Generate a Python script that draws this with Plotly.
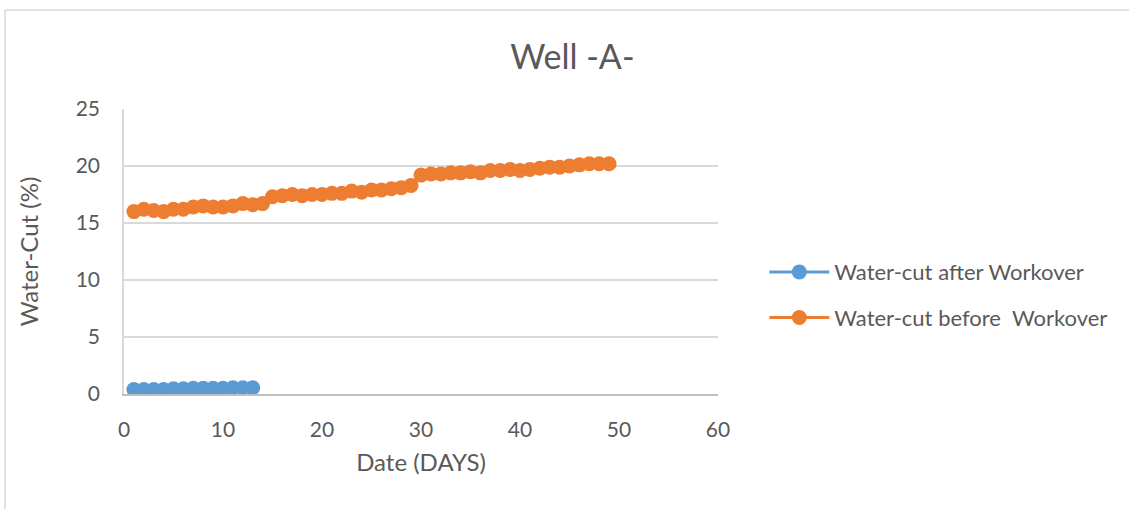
import plotly.graph_objects as go

days_after = list(range(1, 14))
wc_after = [0.4, 0.4, 0.4, 0.4, 0.45, 0.45, 0.5, 0.5, 0.5, 0.5, 0.55, 0.55, 0.55]

days_before = list(range(1, 50))
wc_before = [16.0, 16.2, 16.1, 16.0, 16.2, 16.2, 16.4, 16.5, 16.4, 16.4,
             16.5, 16.7, 16.6, 16.7, 17.3, 17.4, 17.5, 17.4, 17.5, 17.5,
             17.6, 17.6, 17.8, 17.7, 17.9, 17.9, 18.0, 18.1, 18.3, 19.2,
             19.3, 19.3, 19.4, 19.4, 19.5, 19.4, 19.6, 19.6, 19.7, 19.6,
             19.7, 19.8, 19.9, 19.9, 20.0, 20.1, 20.2, 20.2, 20.2]

x_ticks = [0, 10, 20, 30, 40, 50, 60]
y_ticks = [0, 5, 10, 15, 20, 25]

FONT = "Lato"
TXT = "#595959"

fig = go.Figure()
fig.add_trace(go.Scatter(x=days_after, y=wc_after, mode="lines+markers",
                         name="Water-cut after Workover", legendgroup="a",
                         line=dict(color="#5B9BD5", width=3),
                         marker=dict(color="#5B9BD5", size=15)))
fig.add_trace(go.Scatter(x=days_before, y=wc_before, mode="lines+markers",
                         name="Water-cut before  Workover", legendgroup="b",
                         line=dict(color="#ED7D31", width=3),
                         marker=dict(color="#ED7D31", size=15)))

fig.update_layout(
    width=1129, height=509,
    margin=dict(l=124, r=411, t=109, b=115),
    paper_bgcolor="white", plot_bgcolor="white",
    font=dict(family=FONT, color=TXT, size=21),
    title=dict(text="Well -A-", x=0.507, xref="container", xanchor="center",
               y=0.888, yref="container", yanchor="middle",
               font=dict(family=FONT, size=34, color=TXT)),
    xaxis=dict(range=[0, 60], tickvals=x_ticks, showgrid=False,
               showline=True, linecolor="#bfbfbf", linewidth=2,
               zeroline=False, ticks="", ticklabelstandoff=16,
               title=dict(text="Date (DAYS)", font=dict(size=24, color=TXT), standoff=14),
               tickfont=dict(size=21, color=TXT)),
    yaxis=dict(range=[0, 25], tickvals=y_ticks, showgrid=True,
               gridcolor="#d9d9d9", gridwidth=1.5,
               showline=True, linecolor="#d9d9d9", linewidth=1.5,
               zeroline=False, ticks="", ticklabelstandoff=18,
               title=dict(text="Water-Cut (%)", font=dict(size=24, color=TXT), standoff=30),
               tickfont=dict(size=21, color=TXT)),
    legend=dict(x=1.078, xanchor="left", y=0.347, yanchor="middle",
                traceorder="grouped", tracegroupgap=14, itemwidth=60,
                font=dict(size=22, color=TXT), bgcolor="rgba(0,0,0,0)"),
    showlegend=True,
    shapes=[
        dict(type="line", xref="paper", yref="paper", x0=-0.2003, x1=-0.2003,
             y0=1.347, y1=-0.5, line=dict(color="#d9d9d9", width=1.5)),
        dict(type="line", xref="paper", yref="paper", x0=-0.2003, x1=1.8,
             y0=1.347, y1=1.347, line=dict(color="#d9d9d9", width=1.5)),
    ],
)

fig.write_html("out.html")
